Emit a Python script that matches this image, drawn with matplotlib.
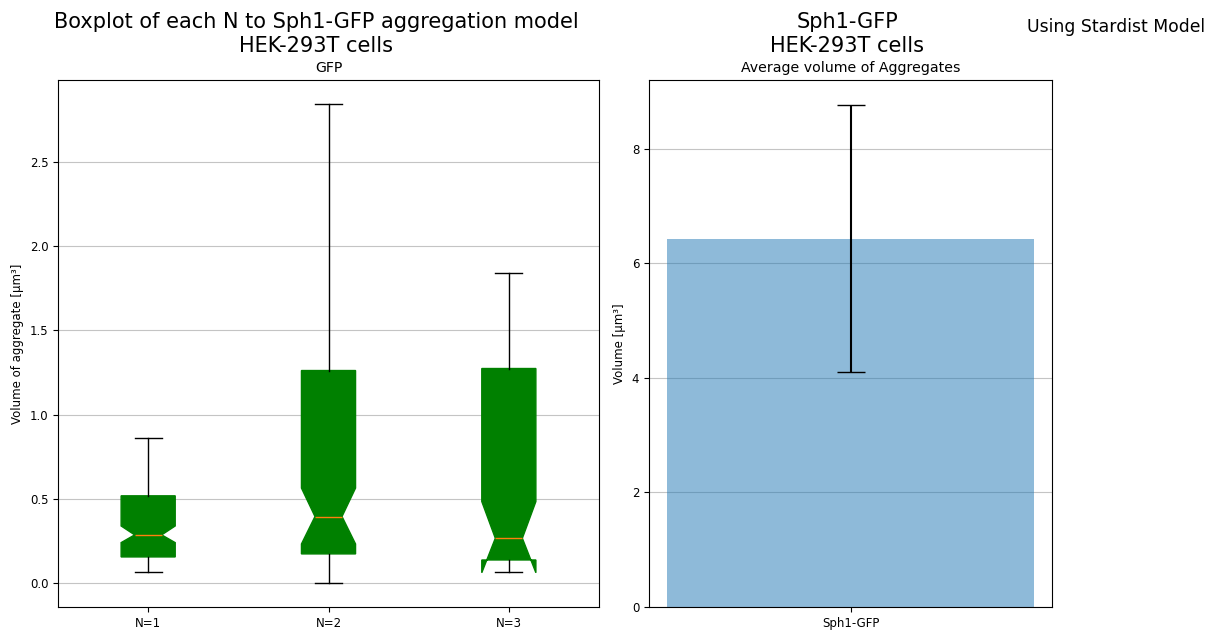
import numpy as np
import matplotlib
matplotlib.use("Agg")
import matplotlib.pyplot as plt

# box statistics per replicate (volumes in um^3)
labels = ["N=1", "N=2", "N=3"]
whislo = [0.065, 0.0, 0.064]
q1 = [0.155, 0.173, 0.137]
med = [0.286, 0.395, 0.266]
q3 = [0.518, 1.262, 1.274]
whishi = [0.863, 2.845, 1.839]
cilo = [0.24, 0.232, 0.061]
cihi = [0.339, 0.564, 0.484]

# average volume over all aggregates
bar_names = ["Sph1-GFP"]
bar_means = [6.43]
bar_err = [2.33]

stats = []
for i in range(len(labels)):
    stats.append(dict(label=labels[i], whislo=whislo[i], q1=q1[i], med=med[i],
                      q3=q3[i], whishi=whishi[i], cilo=cilo[i], cihi=cihi[i], fliers=[]))

fig = plt.figure(figsize=(12.18, 6.3), dpi=100)
ax1 = fig.add_axes([58/1218, 23/630, 541/1218, 527/630])
ax2 = fig.add_axes([649/1218, 23/630, 403/1218, 527/630])

small = 8.5
sub = 10.2

#boxplot of each N
ax1.bxp(stats, shownotches=True, patch_artist=True,
        boxprops=dict(facecolor="green", edgecolor="green"),
        medianprops=dict(color="#ff7f0e"))
ax1.yaxis.grid(True, color="#c4c4c4")
ax1.set_axisbelow(True)
ax1.set_ylabel("Volume of aggregate [µm³]", fontsize=small)
ax1.set_title("GFP", fontsize=sub)
ax1.tick_params(labelsize=small)

#bar of the mean volume
ax2.bar(bar_names, bar_means, yerr=bar_err, alpha=0.5, capsize=10, ecolor="black")
ax2.yaxis.grid(True, color="#c4c4c4")
ax2.set_axisbelow(True)
ax2.set_ylabel("Volume [µm³]", fontsize=small)
ax2.set_title("Average volume of Aggregates", fontsize=sub)
ax2.tick_params(labelsize=small)

fig.text(316/1218, 1 - 34/630, "Boxplot of each N to Sph1-GFP aggregation model\nHEK-293T cells",
         ha="center", va="center", fontsize=15)
fig.text(847/1218, 1 - 34/630, "Sph1-GFP\nHEK-293T cells",
         ha="center", va="center", fontsize=15)
fig.text(1116/1218, 1 - 27/630, "Using Stardist Model", ha="center", va="center", fontsize=12.4)

fig.savefig("out.png", dpi=100)
